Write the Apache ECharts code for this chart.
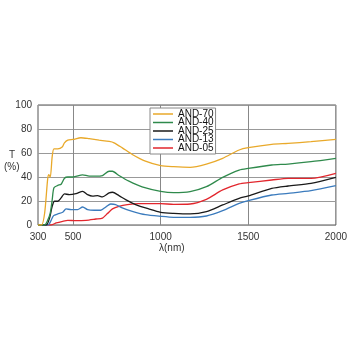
<!DOCTYPE html>
<html><head><meta charset="utf-8">
<script src="https://cdn.jsdelivr.net/npm/echarts@6/dist/echarts.min.js"></script>
<style>html,body{margin:0;padding:0;background:#fff}#c{width:350px;height:350px}</style>
</head><body><div id="c"></div>
<script>
const seriesNames = ['AND-70','AND-40','AND-25','AND-13','AND-05'];
const colors = ['#e9a92a','#2f8a4c','#1a1a1a','#3b7bbd','#e2262d'];
const xTickLabels = [300,500,1000,1500,2000];
const xGridValues = [500,1000,1500];

const and70 = [[300,0],[320,0],[338,10],[355,38],[362,42],[370,40],[381,57],[391,63.5],[413,63.5],[438,65],[451,68.5],[470,70.7],[500,71.3],[545,72.7],[592,71.9],[649,70.7],[706,69.6],[734,68.5],[781,64.3],[838,58.8],[913,53.2],[1000,49.5],[1074,48.6],[1168,48.1],[1261,50.8],[1354,55.6],[1448,62.5],[1500,64.4],[1634,67.2],[1727,68],[1858,69.4],[2000,71.4]];
const and40 = [[300,0],[338,0],[357,4.5],[370,10],[381,21],[391,31],[413,33],[432,34],[451,39],[470,40],[500,40],[555,41.8],[592,40.7],[630,40.7],[668,41.2],[706,44.8],[725,44.8],[762,41.2],[819,36.5],[894,31.8],[1000,28.1],[1074,27],[1168,27.8],[1261,31.9],[1354,39.7],[1448,45.8],[1500,47.2],[1634,50],[1727,50.8],[1858,52.8],[2000,55.6]];
const and25 = [[300,0],[347,0],[366,5.8],[381,15.6],[394,19.8],[413,19.8],[432,22.6],[451,25.9],[479,25.3],[517,26.2],[555,28.1],[583,25.3],[611,24],[640,24.5],[668,23.4],[706,26.7],[725,27.3],[762,24.5],[800,21.2],[857,17],[932,13.4],[1000,10.6],[1074,9.7],[1168,9.2],[1261,11.1],[1354,16.7],[1448,22.2],[1500,24.2],[1634,30.5],[1727,32.5],[1858,34.7],[2000,39.7]];
const and13 = [[300,0],[357,0],[375,3.9],[389,7.8],[413,9.2],[441,10.6],[460,13.4],[489,12.8],[526,12.8],[555,15],[583,12.8],[621,12.3],[658,12.3],[687,15],[715,17.5],[743,17],[781,14.2],[838,11.4],[913,8.6],[1000,7.2],[1074,6.4],[1168,6.4],[1261,7.5],[1354,11.9],[1448,18],[1500,20.3],[1634,25],[1727,26.4],[1858,28.6],[2000,32.8]];
const and05 = [[300,0],[375,0],[404,1.7],[441,3.1],[470,3.9],[517,3.6],[574,3.9],[630,5],[668,5.8],[696,9.5],[725,13.4],[762,15.6],[810,17],[876,17.8],[1000,17.8],[1074,17.2],[1168,17.5],[1261,21.4],[1354,29.2],[1448,34.2],[1500,35.3],[1634,37.5],[1727,38.9],[1858,38.9],[2000,43.1]];
const allData = [and70, and40, and25, and13, and05];

const chart = echarts.init(document.getElementById('c'), null, {renderer:'canvas'});
const font = 'Liberation Sans, Arial, sans-serif';
chart.setOption({
  animation: false,
  backgroundColor: '#fff',
  color: colors,
  grid: {left: 38, top: 105, right: 11, bottom: 125, show: true, borderColor: '#555', borderWidth: 1, backgroundColor: 'transparent'},
  legend: {
    show: true,
    data: seriesNames, orient: 'vertical', left: 150, top: 108,
    backgroundColor: '#fff', borderColor: '#888', borderWidth: 1,
    padding: [1, 2, 1, 3], itemGap: -1.5, itemWidth: 20, itemHeight: 1.5,
    icon: 'rect',
    textStyle: {fontSize: 10, lineHeight: 8.5, color: '#111', fontFamily: font}
  },
  xAxis: {
    type: 'value', min: 300, max: 2000,
    axisLine: {show: false},
    axisTick: {show: false, customValues: xGridValues},
    axisLabel: {customValues: xTickLabels, formatter: v => String(v), fontSize: 10, color: '#333', fontFamily: font, margin: 7, showMinLabel: true, showMaxLabel: true},
    splitLine: {show: true, lineStyle: {color: '#888', width: 1}}
  },
  yAxis: {
    type: 'value', min: 0, max: 100, interval: 20,
    axisLine: {show: false}, axisTick: {show: false},
    axisLabel: {fontSize: 10, color: '#333', fontFamily: font, margin: 6},
    splitLine: {show: true, lineStyle: {color: '#999', width: 1}}
  },
  graphic: [
    {type: 'text', left: 9, top: 150, style: {text: 'T', fontSize: 10, fill: '#333', fontFamily: font}},
    {type: 'text', left: 4, top: 162, style: {text: '(%)', fontSize: 10, fill: '#333', fontFamily: font}},
    {type: 'text', left: 159, top: 243, style: {text: 'λ(nm)', fontSize: 10, fill: '#333', fontFamily: font}}
  ],
  series: seriesNames.map((n, i) => ({
    name: n, type: 'line', data: allData[i], showSymbol: false, symbol: 'none',
    smooth: 0.25, lineStyle: {width: 1.3, color: colors[i]}, itemStyle: {color: colors[i]}, z: 5 - i
  }))
});
</script></body></html>
